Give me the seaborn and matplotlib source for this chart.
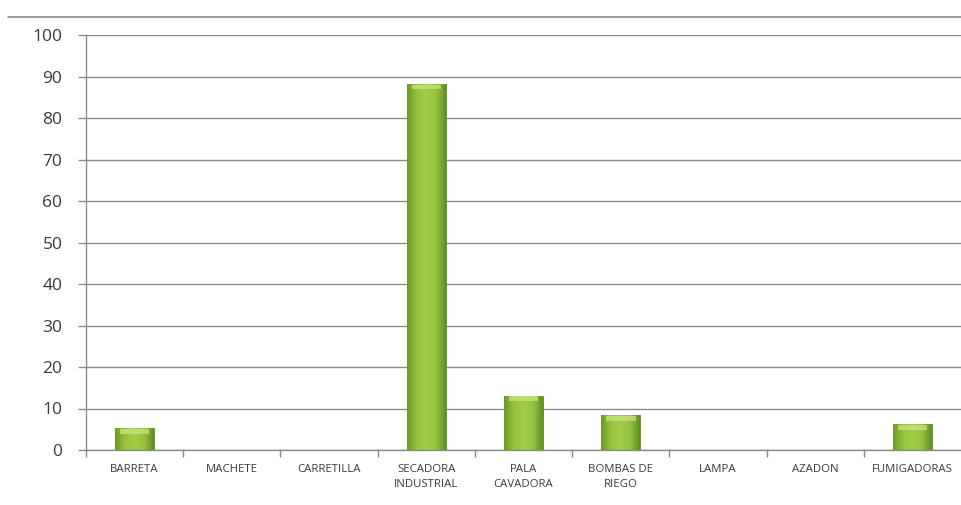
import numpy as np
import pandas as pd
import matplotlib
matplotlib.use("Agg")
import matplotlib.pyplot as plt
import seaborn as sns
from matplotlib.colors import LinearSegmentedColormap

categories = ["BARRETA", "MACHETE", "CARRETILLA", "SECADORA\nINDUSTRIAL", "PALA\nCAVADORA",
              "BOMBAS DE\nRIEGO", "LAMPA", "AZADON", "FUMIGADORAS"]
values = [5.2, 0, 0, 88.2, 13.1, 8.4, 0, 0, 6.2]
yticks = [0, 10, 20, 30, 40, 50, 60, 70, 80, 90, 100]

sns.set_theme(style="white")
plt.rcParams['font.family'] = ['Open Sans', 'DejaVu Sans']

df = pd.DataFrame({"cat": categories, "val": values})

fig = plt.figure(figsize=(9.62, 5.05), dpi=100)
ax = fig.add_axes([86/962, 1-450/505, 1-86/962 - 0.001, (450-35)/505])

sns.barplot(data=df, x="cat", y="val", color="#8fbf3c", width=0.4, ax=ax,
            edgecolor="#5f8a22", linewidth=0.6, saturation=1)

# gradient overlay clipped to each bar
cmap = LinearSegmentedColormap.from_list("g", ["#6b9a26", "#95c340", "#a4cc4a", "#95c340", "#628f24"])
grad = np.linspace(0, 1, 64).reshape(1, -1)
for p in ax.patches:
    h = p.get_height()
    if h <= 0:
        continue
    x0 = p.get_x(); w = p.get_width()
    im = ax.imshow(grad, extent=[x0, x0 + w, 0, h], aspect="auto", cmap=cmap, zorder=p.get_zorder() + 0.1)
    im.set_clip_path(p)
    cap = min(1.3, h * 0.25)
    ax.fill_between([x0 + w*0.12, x0 + w*0.88], h - cap, h - 0.15, color="#c8e480", alpha=0.75,
                    zorder=p.get_zorder() + 0.2, linewidth=0)

ax.set_xlim(-0.5, len(categories) - 0.5)
ax.set_ylim(0, 100)
ax.set_yticks(yticks)
ax.set_yticklabels([str(t) for t in yticks], fontsize=12.5, color="#3a3a3a")
ax.yaxis.grid(True, color="#8a8a8a", linewidth=1.0)
ax.set_axisbelow(True)
ax.set_xlabel("")
ax.set_ylabel("")
ax.tick_params(axis="y", length=6, color="#8a8a8a", width=1, left=True, pad=11)
ax.tick_params(axis="x", length=0, pad=10)
ax.set_xticks(range(len(categories)))
ax.set_xticklabels(categories, fontsize=8.2, color="#3a3a3a", linespacing=1.55)
ax.set_xticks(np.arange(-0.5, len(categories) - 0.5, 1), minor=True)
ax.tick_params(axis="x", which="minor", length=5, color="#8a8a8a", width=1, bottom=True)

for s in ["top", "right"]:
    ax.spines[s].set_visible(False)
for s in ["left", "bottom"]:
    ax.spines[s].set_color("#8a8a8a")
    ax.spines[s].set_linewidth(1.0)

# top border line of the chart area
fig.add_artist(plt.Line2D([8/962, 1], [1-17/505, 1-17/505], color="#8a8a8a", linewidth=1.2))

fig.savefig("out.png", dpi=100)
